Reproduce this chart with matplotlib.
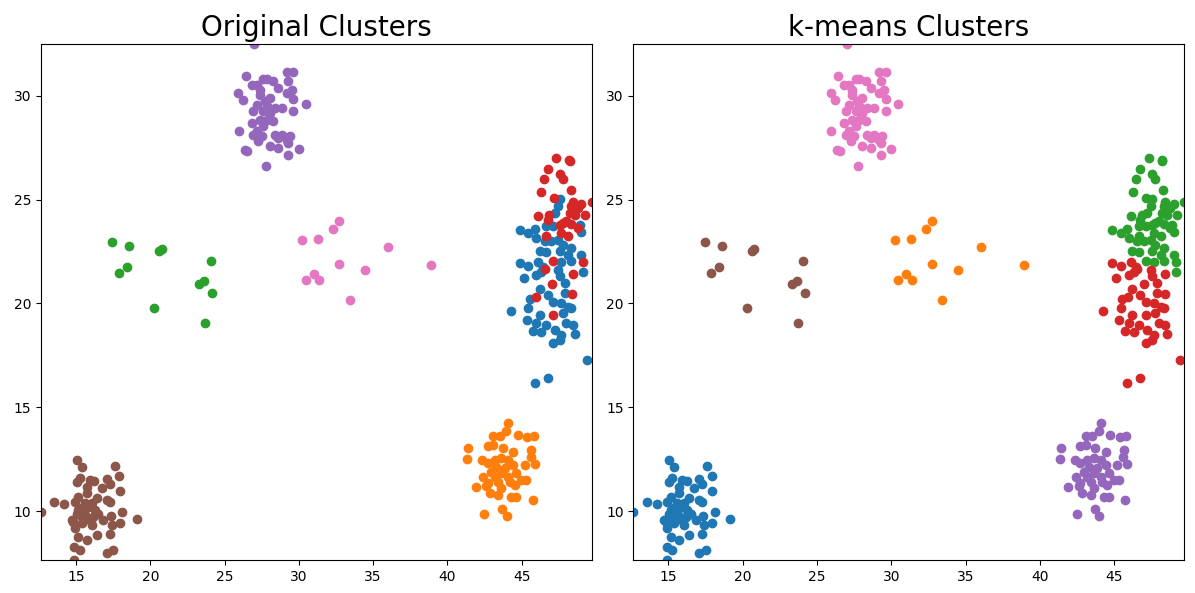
import numpy as np
import matplotlib
matplotlib.use("Agg")
import matplotlib.pyplot as plt

# brown blob, lower left
brown_x = [12.64, 15.04, 15.38, 17.62, 17.92, 15.27, 15.04, 15.94, 16.23, 17.06, 17.29, 15.72, 16.73, 17.96,
           15.72, 15.16, 16.39, 17.06, 17.29, 13.54, 14.21, 14.93, 15.38, 15.83, 16.28, 15.04, 15.61, 16.17,
           18.12, 17.35, 16.84, 14.82, 15.38, 16.05, 17.40, 17.96, 14.93, 16.39, 15.16, 15.72, 17.29, 14.89,
           15.27, 17.06, 17.51, 14.89, 19.13, 15.60, 16.05, 15.38, 15.94, 14.71, 15.16, 16.50]
brown_y = [9.97, 12.46, 12.13, 12.17, 11.68, 11.57, 11.41, 11.49, 11.46, 11.52, 11.30, 11.17, 11.09, 10.98,
           10.85, 10.69, 10.61, 10.53, 10.45, 10.45, 10.33, 10.45, 10.13, 10.21, 10.05, 9.88, 9.80, 9.72,
           9.96, 9.76, 9.56, 9.48, 9.40, 9.32, 9.32, 9.40, 9.16, 8.84, 8.76, 8.60, 8.87, 8.28,
           8.12, 7.96, 8.12, 7.64, 9.64, 10.37, 10.37, 9.72, 9.56, 9.56, 10.04, 9.88]

# purple blob, top
purple_x = [26.44, 29.18, 29.62, 27.61, 27.83, 26.82, 27.16, 28.28, 29.29, 27.38, 28.62, 25.92, 26.22, 27.38,
            28.05, 29.51, 29.18, 30.48, 29.62, 27.16, 27.83, 28.39, 28.84, 26.93, 27.61, 29.62, 28.05, 27.38,
            27.83, 28.28, 27.61, 27.16, 25.95, 26.93, 27.49, 28.39, 28.84, 29.40, 29.18, 27.27, 28.05, 28.62,
            29.29, 30.01, 26.37, 26.53, 29.29, 27.76, 27.00, 27.72, 26.82, 28.62]
purple_y = [30.94, 31.14, 31.14, 30.81, 30.81, 30.54, 30.54, 30.70, 30.70, 30.30, 30.38, 30.14, 29.82, 30.06,
            29.90, 30.30, 30.14, 29.62, 29.85, 29.58, 29.50, 29.42, 29.42, 29.25, 29.25, 29.29, 29.17, 28.85,
            28.85, 28.77, 28.53, 28.29, 28.29, 28.13, 28.05, 28.13, 28.13, 28.05, 27.89, 27.81, 27.60, 27.49,
            27.73, 27.45, 27.41, 27.36, 27.16, 26.60, 32.50, 29.74, 28.69, 27.97]

# orange blob, lower right
orange_x = [44.09, 43.98, 43.08, 43.53, 44.76, 45.39, 45.82, 41.40, 41.35, 42.74, 43.08, 43.75, 44.43, 45.66,
            45.61, 45.88, 45.21, 42.34, 42.74, 43.19, 43.64, 44.09, 43.30, 43.86, 44.43, 42.97, 43.64, 44.65,
            43.19, 44.09, 42.41, 44.99, 45.32, 42.74, 43.42, 44.20, 44.54, 41.91, 42.63, 43.64, 42.86, 43.42,
            44.31, 44.65, 45.77, 42.50, 43.70, 44.00]
orange_y = [14.23, 13.87, 13.63, 13.62, 13.66, 13.58, 13.62, 13.02, 12.49, 13.13, 13.18, 13.02, 12.86, 12.94,
            12.62, 12.27, 12.22, 12.46, 12.33, 12.46, 12.54, 12.46, 12.14, 12.06, 12.22, 11.90, 11.82, 11.82,
            11.66, 11.66, 11.66, 11.49, 11.49, 11.33, 11.41, 11.41, 11.25, 11.14, 11.21, 11.09, 10.85, 10.77,
            10.66, 10.66, 10.53, 9.85, 10.10, 9.75]

# sparse green group, left middle
green_x = [17.44, 18.59, 20.60, 20.77, 18.41, 17.89, 24.08, 23.63, 23.30, 24.17, 20.27, 23.70]
green_y = [22.96, 22.78, 22.54, 22.63, 21.75, 21.46, 22.04, 21.09, 20.93, 20.51, 19.77, 19.05]

# sparse pink group, middle
pink_x = [32.72, 32.32, 30.23, 31.31, 36.02, 38.91, 32.72, 34.47, 31.02, 30.48, 31.38, 33.44]
pink_y = [23.98, 23.60, 23.07, 23.12, 22.73, 21.85, 21.90, 21.61, 21.43, 21.14, 21.12, 20.16]

# right column: blue (lower) and red (upper), split by where k-means put them
blue_hi_x = [47.57, 47.46, 47.23, 44.88, 45.44, 45.89, 46.00, 46.67, 47.12, 46.56, 47.01, 47.46, 47.79, 48.35,
             48.91, 49.03, 46.22, 46.67, 47.57, 48.13, 49.03, 47.68, 48.35, 49.14]
blue_hi_y = [25.05, 24.68, 24.36, 23.55, 23.39, 23.60, 23.15, 23.71, 23.71, 22.99, 22.99, 23.07, 22.83, 22.67,
             23.79, 23.44, 22.54, 22.48, 22.51, 22.35, 22.35, 21.99, 22.06, 21.54]
blue_lo_x = [44.88, 45.44, 46.11, 46.45, 46.33, 46.00, 47.46, 47.57, 47.90, 45.15, 46.22, 46.78, 47.90, 45.55,
             47.12, 47.68, 48.13, 48.35, 44.27, 45.44, 46.22, 47.79, 45.33, 46.00, 46.67, 48.02, 48.46, 45.77,
             46.33, 47.23, 47.68, 48.58, 47.12, 47.57, 49.43, 46.78, 45.89]
blue_lo_y = [21.97, 21.82, 22.02, 21.78, 21.54, 21.38, 21.62, 21.30, 20.97, 21.22, 20.69, 20.41, 20.49, 20.20,
             20.09, 20.04, 19.85, 19.77, 19.64, 19.77, 19.45, 19.53, 19.21, 19.05, 18.97, 19.05, 18.97, 18.68,
             18.64, 18.72, 18.48, 18.53, 18.08, 18.24, 17.28, 16.39, 16.15]
red_hi_x = [47.34, 48.20, 48.24, 46.78, 47.57, 47.79, 46.51, 48.31, 46.29, 47.16, 48.46, 49.03, 49.71, 48.35,
            48.80, 48.24, 48.58, 49.25, 46.11, 46.85, 46.78, 47.79, 48.02, 47.57, 48.35, 48.80, 47.68, 48.13,
            46.67, 47.12, 49.14]
red_hi_y = [27.01, 26.93, 26.85, 26.49, 26.24, 26.01, 26.01, 25.48, 25.37, 25.08, 24.89, 24.79, 24.90, 24.68,
            24.60, 24.36, 24.28, 24.28, 24.19, 24.28, 24.03, 23.87, 23.99, 23.79, 23.82, 23.63, 23.39, 23.23,
            23.23, 22.06, 21.98]
red_lo_x = [46.56, 48.46, 47.05, 45.95, 48.40, 47.12]
red_lo_y = [21.65, 21.42, 20.94, 20.30, 20.46, 19.45]

# (xs, ys, colour in original panel, colour in k-means panel)
groups = [
    (blue_hi_x, blue_hi_y, 'C0', 'C2'),
    (blue_lo_x, blue_lo_y, 'C0', 'C3'),
    (orange_x, orange_y, 'C1', 'C4'),
    (green_x, green_y, 'C2', 'C5'),
    (red_hi_x, red_hi_y, 'C3', 'C2'),
    (red_lo_x, red_lo_y, 'C3', 'C3'),
    (purple_x, purple_y, 'C4', 'C6'),
    (brown_x, brown_y, 'C5', 'C0'),
    (pink_x, pink_y, 'C6', 'C1'),
]

all_x = np.concatenate([g[0] for g in groups])
all_y = np.concatenate([g[1] for g in groups])

fig, axs = plt.subplots(1, 2, figsize=(11.95, 5.93), dpi=100)
fig.subplots_adjust(left=0.0343, right=0.9908, bottom=0.0556, top=0.9258, wspace=0.076)

for xs, ys, c_orig, c_km in groups:
    axs[0].scatter(xs, ys, color=c_orig)
    axs[1].scatter(xs, ys, color=c_km)

axs[0].set_title("Original Clusters", fontsize=20)
axs[1].set_title("k-means Clusters", fontsize=20)
for ax in axs:
    ax.set_xlim(all_x.min(), all_x.max())
    ax.set_ylim(all_y.min(), all_y.max())

fig.savefig("out.png")
